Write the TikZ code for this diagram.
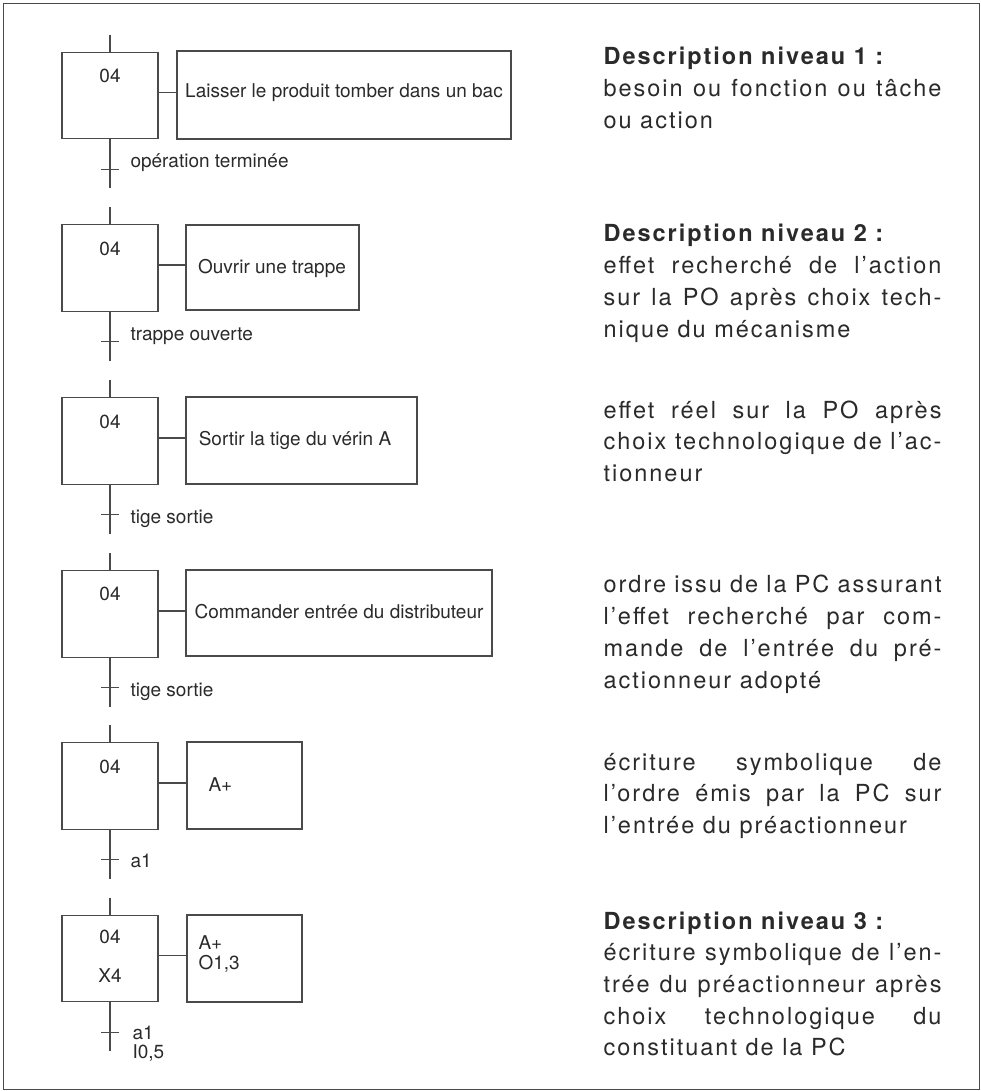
\documentclass[tikz,border=0pt]{standalone}
\usepackage{fontspec}
\setmainfont{TeX Gyre Heros}
\newfontfamily\descfont[LetterSpace=8.5]{TeX Gyre Heros}
\usetikzlibrary{calc}
\definecolor{ink}{HTML}{2A2A2A}
\definecolor{rule}{HTML}{4A4A4A}
% one justified line of the description column
\newcommand\jline[1]{\hbox to 338pt{#1}}

\begin{document}
\begin{tikzpicture}[x=1pt,y=-1pt,line width=1.1pt]
\tikzset{
  stepbox/.style={draw=rule,minimum width=96pt,minimum height=86.5pt,inner sep=0pt},
  actbox/.style={draw=rule,inner sep=0pt},
  txt/.style={font=\fontsize{19}{23}\selectfont,text=ink,inner sep=0pt},
  % anchored on the baseline of the last line
  desc/.style={font=\fontsize{23.5}{31.7}\selectfont\descfont,text=ink,inner sep=0pt,align=left,anchor=base west},
  wire/.style={draw=rule,line width=1.1pt}
}
\useasboundingbox (0,0) rectangle (981,1091);
\draw[rule,line width=1pt] (3.5,3.5) rectangle (979,1089.5);

% ---- steps ----
\node[stepbox] (s1) at (110,95.5) {};
\node[stepbox] (s2) at (110,268) {};
\node[stepbox] (s3) at (110,441) {};
\node[stepbox] (s4) at (110,614) {};
\node[stepbox] (s5) at (110,786) {};
\node[stepbox] (s6) at (110,958.5) {};

\node[txt,anchor=base] (n1) at (110,83) {04};
\node[txt,anchor=base] (n2) at (110,255) {04};
\node[txt,anchor=base] (n3) at (110,428) {04};
\node[txt,anchor=base] (n4) at (110,600) {04};
\node[txt,anchor=base] (n5) at (110,773) {04};
\node[txt,anchor=base] (n6) at (110,943) {04};
\node[txt,anchor=base] (x6) at (110,982) {X4};

% ---- actions ----
\node[actbox,minimum width=334pt,minimum height=88pt] (a1) at (344,95) {};
\node[actbox,minimum width=173pt,minimum height=85pt] (a2) at (272.5,267.5) {};
\node[actbox,minimum width=231pt,minimum height=87pt] (a3) at (301.5,440.5) {};
\node[actbox,minimum width=306pt,minimum height=86pt] (a4) at (339,613) {};
\node[actbox,minimum width=115pt,minimum height=87pt] (a5) at (244.5,785.5) {};
\node[actbox,minimum width=115pt,minimum height=87pt] (a6) at (244.5,958.5) {};

\node[txt,anchor=base] (l1) at (344,98) {Laisser le produit tomber dans un bac};
\node[txt,anchor=base] (l2) at (272,273) {Ouvrir une trappe};
\node[txt,anchor=base] (l3) at (295,445) {Sortir la tige du vérin A};
\node[txt,anchor=base] (l4) at (339,618) {Commander entrée du distributeur};
\node[txt,anchor=base west] (l5) at (208,791) {A+};
\node[txt,anchor=base west] (l6) at (198,949) {A+};
\node[txt,anchor=base west] (l7) at (198,969) {O1,3};

% ---- step to action links ----
\foreach \i in {1,...,6}{
  \draw[wire] ($(s\i.east)+(0,-3)$) -- ($(s\i.east -| a\i.west)+(0,-3)$);
}

% ---- incoming stubs, transitions ----
\foreach \i in {1,...,6}{
  \coordinate (in\i) at ($(s\i.north)+(0,-17)$);
  \coordinate (t\i) at ($(s\i.south)+(0,30)$);
  \coordinate (out\i) at ($(s\i.south)+(0,49)$);
  \draw[wire] (in\i) -- (s\i.north);
  \draw[wire] (s\i.south) -- (out\i);
  \draw[wire] ($(t\i)+(-9,0)$) -- ($(t\i)+(9,0)$);
}

\node[txt,anchor=base west] (c1) at (130,168) {opération terminée};
\node[txt,anchor=base west] (c2) at (130,340) {trappe ouverte};
\node[txt,anchor=base west] (c3) at (130,523) {tige sortie};
\node[txt,anchor=base west] (c4) at (130,696) {tige sortie};
\node[txt,anchor=base west] (c5) at (130,867) {a1};
\node[txt,anchor=base west] (c6) at (132,1039) {a1};
\node[txt,anchor=base west] (c7) at (132,1058) {I0,5};

% ---- description column ----
\node[desc] (d1) at (603,128.4) {{\bfseries Description niveau 1 :}\\
  \jline{besoin ou fonction ou tâche}\\
  ou action};
\node[desc] (d2) at (603,337) {{\bfseries Description niveau 2 :}\\
  \jline{effet recherché de l’action}\\
  \jline{sur la PO après choix tech-}\\
  nique du mécanisme};
\node[desc] (d3) at (603,481.4) {\jline{effet réel sur la PO après}\\
  \jline{choix technologique de l’ac-}\\
  tionneur};
\node[desc] (d4) at (603,688) {\jline{ordre issu de la PC assurant}\\
  \jline{l’effet recherché par com-}\\
  \jline{mande de l’entrée du pré-}\\
  actionneur adopté};
\node[desc] (d5) at (603,833.4) {\jline{écriture symbolique de}\\
  \jline{l’ordre émis par la PC sur}\\
  l’entrée du préactionneur};
\node[desc] (d6) at (603,1055.8) {{\bfseries Description niveau 3 :}\\
  \jline{écriture symbolique de l’en-}\\
  \jline{trée du préactionneur après}\\
  \jline{choix technologique du}\\
  constituant de la PC};
\end{tikzpicture}
\end{document}
